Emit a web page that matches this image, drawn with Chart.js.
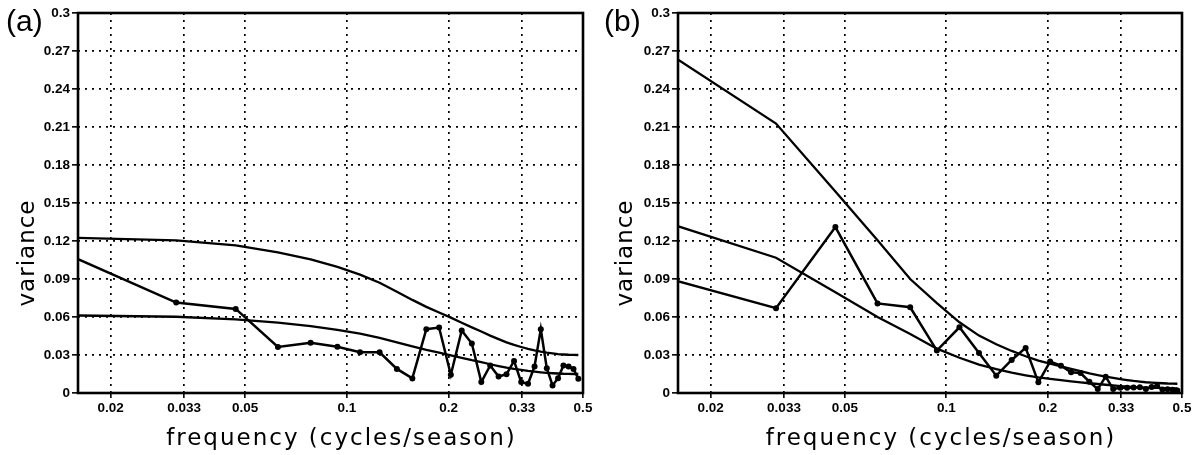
<!DOCTYPE html>
<html>
<head>
<meta charset="utf-8">
<title>Variance spectra</title>
<script src="https://cdn.jsdelivr.net/npm/chart.js"></script>
<style>
  body { margin: 0; background: #fff; }
  canvas { position: absolute; top: 0; }
</style>
</head>
<body>
<canvas id="chartA" width="598" height="455" style="left:0"></canvas>
<canvas id="chartB" width="598" height="455" style="left:598px"></canvas>
<script>
// harmonic frequencies (cycles/season)
const freq = [0.015625, 0.03125, 0.046875, 0.0625, 0.078125, 0.09375, 0.109375, 0.125,
  0.140625, 0.15625, 0.171875, 0.1875, 0.203125, 0.21875, 0.234375, 0.25,
  0.265625, 0.28125, 0.296875, 0.3125, 0.328125, 0.34375, 0.359375, 0.375,
  0.390625, 0.40625, 0.421875, 0.4375, 0.453125, 0.46875, 0.484375];

const xTicks = [0.02, 0.033, 0.05, 0.1, 0.2, 0.33, 0.5];
const xTickLabels = ['0.02', '0.033', '0.05', '0.1', '0.2', '0.33', '0.5'];
const yTicks = [0, 0.03, 0.06, 0.09, 0.12, 0.15, 0.18, 0.21, 0.24, 0.27, 0.3];
const yTickLabels = ['0', '0.03', '0.06', '0.09', '0.12', '0.15', '0.18', '0.21', '0.24', '0.27', '0.3'];

// panel (a)
const specA = [0.107, 0.0714, 0.0664, 0.0363, 0.0397, 0.0365, 0.0322, 0.0321, 0.019, 0.0115,
  0.0504, 0.0517, 0.0144, 0.0493, 0.0391, 0.0086, 0.0217, 0.013, 0.0149, 0.0253,
  0.0086, 0.0073, 0.0209, 0.0504, 0.0196, 0.006, 0.0117, 0.0217, 0.0209, 0.019, 0.0112];
const upperA = [0.1226, 0.1205, 0.1165, 0.111, 0.1055, 0.0995, 0.0935, 0.087, 0.08, 0.0735,
  0.068, 0.0635, 0.0595, 0.0555, 0.0518, 0.0485, 0.0453, 0.0425, 0.04, 0.038,
  0.0363, 0.0348, 0.0336, 0.0326, 0.0318, 0.0312, 0.0307, 0.0304, 0.0302, 0.0301, 0.03];
const lowerA = [0.0612, 0.0602, 0.0582, 0.0555, 0.0528, 0.0498, 0.0468, 0.0435, 0.04, 0.0368,
  0.034, 0.0318, 0.0298, 0.0278, 0.0259, 0.0243, 0.0227, 0.0213, 0.02, 0.019,
  0.0182, 0.0174, 0.0168, 0.0163, 0.0159, 0.0156, 0.0154, 0.0152, 0.0151, 0.015, 0.015];

// panel (b)
const specB = [0.089, 0.067, 0.131, 0.0707, 0.0677, 0.0335, 0.0519, 0.0316, 0.0137, 0.0261,
  0.0356, 0.0084, 0.0248, 0.0216, 0.0163, 0.0158, 0.0089, 0.0031, 0.0129, 0.0031,
  0.0042, 0.0042, 0.0043, 0.0045, 0.0032, 0.0047, 0.0055, 0.0028, 0.003, 0.0026, 0.002];
const upperB = [0.265, 0.2127, 0.159, 0.1205, 0.09, 0.071, 0.0558, 0.0453, 0.0385, 0.0332,
  0.029, 0.0256, 0.0232, 0.021, 0.019, 0.0172, 0.0155, 0.0142, 0.013, 0.012,
  0.011, 0.0102, 0.0095, 0.009, 0.0085, 0.0082, 0.0079, 0.0077, 0.0075, 0.0074, 0.0073];
const lowerB = [0.1325, 0.1068, 0.0796, 0.06, 0.0466, 0.035, 0.0278, 0.0224, 0.0188, 0.016,
  0.014, 0.0124, 0.0112, 0.0101, 0.0092, 0.0084, 0.0077, 0.0071, 0.0065, 0.006,
  0.0055, 0.0051, 0.0048, 0.0045, 0.0043, 0.0041, 0.004, 0.0039, 0.0038, 0.0037, 0.0037];

const xTitle = 'frequency (cycles/season)';
const yTitle = 'variance';

const tickFont = { family: '"Liberation Sans", Arial, sans-serif', size: 13.5, weight: 'bold' };

// frame round the plot, panel tag and axis titles
const panelText = {
  id: 'panelText',
  afterDraw(chart, args, opts) {
    const { ctx, chartArea: a } = chart;
    ctx.save();
    ctx.strokeStyle = '#000';
    ctx.lineWidth = 2.6;
    ctx.strokeRect(a.left, a.top, a.right - a.left, a.bottom - a.top);
    ctx.fillStyle = '#000';
    ctx.font = '30px "Liberation Sans", Arial, sans-serif';
    ctx.textAlign = 'left';
    ctx.textBaseline = 'alphabetic';
    ctx.fillText(opts.tag, 6, 31);
    ctx.font = '23px "DejaVu Sans", sans-serif';
    ctx.textAlign = 'center';
    ctx.letterSpacing = '2px';
    ctx.fillText(xTitle, (a.left + a.right) / 2 + 11, 445);
    ctx.letterSpacing = '1px';
    ctx.translate(34, 253);
    ctx.rotate(-Math.PI / 2);
    ctx.fillText(yTitle, 0, 0);
    ctx.restore();
  }
};

function toPoints(vals) {
  return vals.map((v, i) => ({ x: freq[i], y: v }));
}

function makePanel(id, tag, spec, upper, lower, leftWidth, rightPad) {
  const line = (vals, dots) => ({
    data: toPoints(vals),
    borderColor: '#000',
    borderWidth: dots ? 2.5 : 2.3,
    backgroundColor: '#000',
    pointRadius: dots ? 3 : 0,
    pointBorderWidth: 0,
    tension: 0,
    clip: 0
  });
  return new Chart(document.getElementById(id), {
    type: 'line',
    data: { datasets: [line(upper, false), line(lower, false), line(spec, true)] },
    options: {
      responsive: false,
      animation: false,
      layout: { padding: { left: 0, right: rightPad, top: 13, bottom: 0 } },
      plugins: { legend: { display: false }, tooltip: { enabled: false }, panelText: { tag: tag } },
      scales: {
        x: {
          type: 'logarithmic',
          min: 0.016,
          max: 0.5,
          afterBuildTicks: s => { s.ticks = xTicks.map(v => ({ value: v })); },
          afterFit: s => { s.height = 62; },
          ticks: { autoSkip: false, maxRotation: 0, padding: 2, color: '#000', font: tickFont,
            callback: (v, i) => xTickLabels[i] },
          grid: { color: '#000', lineWidth: 1.7, tickLength: 5, tickColor: '#000', tickWidth: 1.6 },
          border: { display: false, dash: [2, 5] }
        },
        y: {
          min: 0,
          max: 0.3,
          afterBuildTicks: s => { s.ticks = yTicks.map(v => ({ value: v })); },
          afterFit: s => { s.width = leftWidth; },
          ticks: { autoSkip: false, padding: 2, color: '#000', font: tickFont,
            callback: (v, i) => yTickLabels[i] },
          grid: { color: '#000', lineWidth: 1.7, tickLength: 6, tickColor: '#000', tickWidth: 1.6 },
          border: { display: false, dash: [2, 5] }
        }
      }
    },
    plugins: [panelText]
  });
}

makePanel('chartA', '(a)', specA, upperA, lowerA, 78, 15);
makePanel('chartB', '(b)', specB, upperB, lowerB, 80, 14);
</script>
</body>
</html>
